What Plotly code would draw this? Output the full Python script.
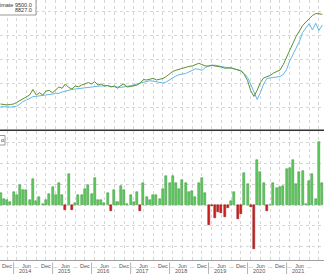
import plotly.graph_objects as go
import pandas as pd

# ---------------- data ----------------
months = pd.date_range("2013-10-01", periods=100, freq="MS")

estimate = [4250, 4190, 4170, 4210, 4250, 4380, 4530, 4670, 4830, 5000,
            5460, 5000, 5190, 5000, 5330, 5380, 5190, 5460, 5670, 5560,
            5920, 5630, 5500, 5750, 5690, 5830, 5920, 6030, 5920, 6110,
            5830, 5920, 5750, 5790, 5670, 5750, 5560, 5790, 5920, 5670,
            5710, 5750, 5830, 5980, 6290, 6250, 6290, 6390, 6250, 6290,
            6380, 6540, 6790, 6960, 7060, 7140, 7230, 7330, 7380, 7420,
            7500, 7640, 7540, 7420, 7420, 7480, 7420, 7390, 7330, 7230,
            7250, 7270, 7180, 7110, 7000, 6710, 6210, 5380, 4880, 5390,
            6040, 6420, 6500, 6630, 6830, 6940, 7080, 7540, 8170, 8770,
            9330, 9880, 10330, 10790, 11080, 11330, 11630, 11790, 11790, 11730]

actual = [4030, 4000, 3980, 4000, 4030, 4060, 4250, 4460, 4580, 4750,
          4860, 4890, 4920, 4960, 5000, 5060, 5080, 5140, 5140, 5250,
          5330, 5420, 5460, 5500, 5540, 5570, 5610, 5640, 5670, 5690,
          5730, 5750, 5770, 5780, 5710, 5670, 5640, 5640, 5670, 5710,
          5750, 5830, 5930, 6000, 6110, 6170, 6190, 6150, 6110, 6020,
          6000, 6100, 6280, 6460, 6580, 6700, 6750, 6790, 6920, 7060,
          7180, 7150, 7050, 7290, 7420, 7480, 7480, 7420, 7380, 7290,
          7230, 7220, 7170, 7100, 7030, 6790, 6460, 5920, 5290, 4630,
          5210, 5920, 6380, 6430, 6460, 6500, 6540, 6710, 7130, 7810,
          8370, 8880, 9460, 10210, 10580, 10960, 10420, 10980, 10380, 10830]

change = [600, 275, 240, 160, 645, 485, 965, 725, 725, 225,
          1240, 195, 385, 30, 240, 515, 870, 465, 1045, 485,
          -240, 1480, -260, 115, 485, 485, 790, 965, 515, 1320,
          225, 225, 115, 595, -290, 710, 160, 915, 710, 65,
          485, 145, 630, -290, 1080, 385, 240, 465, 485, 290,
          760, 1400, 1045, 1420, 1080, 770, 1210, 1045, 640, 680,
          400, 1080, 1290, 600, -950, -30, -610, -350, -370, -560,
          -160, 210, 640, -660, -450, 1560, 1000, -80, -2130, 2170,
          1610, 1045, -290, 0, 1045, 840, 850, 930, 1720, 1790,
          2170, 1010, 1590, 1660, 30, 1160, 1500, 275, 3060, 1080]

tick_dates = pd.date_range("2013-12-01", "2021-12-01", freq="3MS")
tick_cycle = ["Dec", "...", "Jun", "..."]
tick_text = [tick_cycle[k % 4] for k in range(len(tick_dates))]
years = [2014, 2015, 2016, 2017, 2018, 2019, 2020, 2021]
legend_top = ["Estimate 9500.0", "8827.0"]
legend_bottom = "o"

# ---------------- styling ----------------
FONT = "Liberation Sans, Arial, sans-serif"
GRID = "#d6d6d6"
GREEN_LINE = "#5e8f2c"
BLUE_LINE = "#62b8e8"
BAR_POS, BAR_POS_EDGE = "#62cc62", "#2f8f2f"
BAR_NEG, BAR_NEG_EDGE = "#d42020", "#8a1010"

H_PLOT = 260.0  # plot-area height in px (274 - bottom margin 14)


def py(px):
    """pixel row -> paper y"""
    return (H_PLOT - px) / H_PLOT


fig = go.Figure()
fig.add_trace(go.Scatter(x=months, y=actual, mode="lines",
                         line=dict(color=BLUE_LINE, width=1),
                         xaxis="x", yaxis="y", showlegend=False))
fig.add_trace(go.Scatter(x=months, y=estimate, mode="lines",
                         line=dict(color=GREEN_LINE, width=1),
                         xaxis="x", yaxis="y", showlegend=False))
fig.add_trace(go.Bar(x=months, y=change,
                     marker=dict(color=[BAR_POS if v >= 0 else BAR_NEG for v in change],
                                 line=dict(color=[BAR_POS_EDGE if v >= 0 else BAR_NEG_EDGE for v in change],
                                           width=0.5)),
                     width=19 * 86400000,
                     xaxis="x2", yaxis="y2", showlegend=False))

xrange_ = ["2013-09-26 07:00", "2022-01-17 10:00"]
common_x = dict(range=xrange_, type="date", tickmode="array", tickvals=list(tick_dates),
                showgrid=True, gridcolor=GRID, griddash="dot", gridwidth=1,
                zeroline=False, ticks="")

fig.update_layout(
    width=324, height=274,
    margin=dict(l=0, r=0, t=0, b=14),
    paper_bgcolor="white", plot_bgcolor="white",
    font=dict(family=FONT, size=6, color="#444"),
    bargap=0,
    xaxis=dict(**common_x, anchor="y", showticklabels=False),
    yaxis=dict(domain=[py(130), 1], range=[2083, 12917],
               tickvals=[4000, 6000, 8000, 10000, 12000],
               showticklabels=False, showgrid=True, gridcolor=GRID, griddash="dot",
               zeroline=False),
    xaxis2=dict(**common_x, anchor="y2", matches="x", ticktext=tick_text,
                showticklabels=True, tickfont=dict(size=5.5, color="#555", family=FONT),
                showline=True, linecolor="#a0a0a0", linewidth=1),
    yaxis2=dict(domain=[0, py(131)], range=[-2657, 3575],
                tickvals=[-2000, -1000, 0, 1000, 2000, 3000],
                showticklabels=False, showgrid=True, gridcolor=GRID, griddash="dot",
                zeroline=False),
)

shapes = [
    # dark separator between panels
    dict(type="line", xref="paper", yref="paper", x0=0, x1=1, y0=py(130.2), y1=py(130.2),
         line=dict(color="#333333", width=1.6)),
    # top legend box
    dict(type="rect", xref="paper", yref="paper", x0=-0.02, x1=36 / 324, y0=py(15), y1=1.02,
         line=dict(color="#9a9a9a", width=1), fillcolor="white", layer="above"),
    # bottom legend box
    dict(type="rect", xref="paper", yref="paper", x0=-0.05, x1=5 / 324, y0=py(145), y1=py(135.5),
         line=dict(color="#9a9a9a", width=1), fillcolor="white", layer="above"),
]
for y in years:
    shapes.append(dict(type="line", xref="x2", yref="paper", x0=f"{y}-02-01", x1=f"{y}-02-01",
                       y0=py(262.5), y1=py(276), line=dict(color="#a0a0a0", width=0.8)))
fig.update_layout(shapes=shapes)

annotations = [
    dict(text=legend_top[0], xref="paper", yref="paper", x=33.5 / 324, y=py(5),
         xanchor="right", yanchor="middle", showarrow=False,
         font=dict(size=5.5, color="#333", family=FONT)),
    dict(text=legend_top[1], xref="paper", yref="paper", x=33.5 / 324, y=py(10.5),
         xanchor="right", yanchor="middle", showarrow=False,
         font=dict(size=5.5, color="#333", family=FONT)),
    dict(text=legend_bottom, xref="paper", yref="paper", x=2.3 / 324, y=py(140),
         xanchor="center", yanchor="middle", showarrow=False,
         font=dict(size=5.5, color="#333", family=FONT)),
]
for y in years:
    annotations.append(dict(text=str(y), xref="x2", yref="paper", x=f"{y}-05-20", y=py(270.5),
                            xanchor="center", yanchor="middle", showarrow=False,
                            font=dict(size=5.5, color="#555", family=FONT)))
fig.update_layout(annotations=annotations)

fig.write_html("out.html", config={"displayModeBar": False})
